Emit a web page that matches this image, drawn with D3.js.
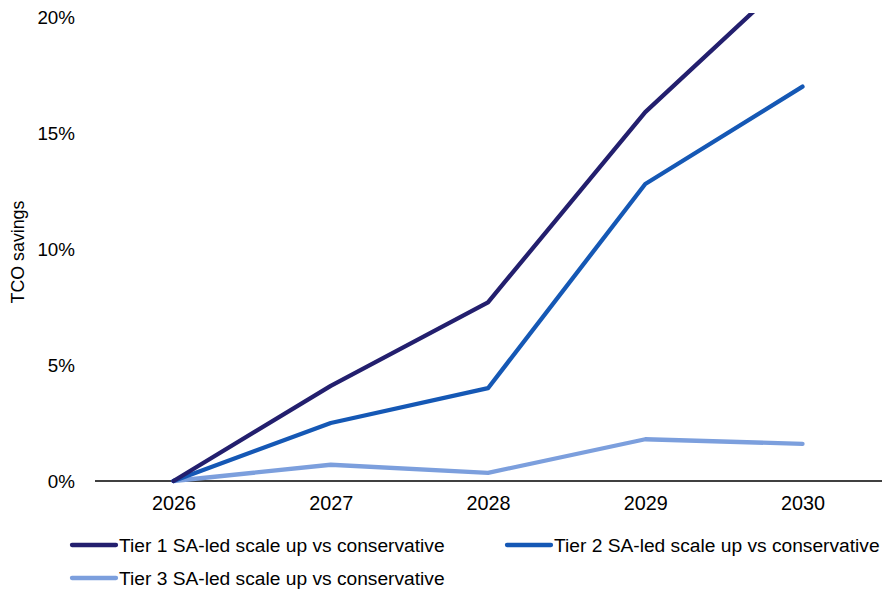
<!DOCTYPE html>
<html>
<head>
<meta charset="utf-8">
<script src="https://cdn.jsdelivr.net/npm/d3@7"></script>
<style>
  html, body { margin: 0; padding: 0; background: #fff; }
  svg { display: block; font-family: "Liberation Sans", Arial, sans-serif; }
</style>
</head>
<body>
<svg id="chart" width="882" height="592"></svg>
<script>
// Years on the x axis
const years = ["2026", "2027", "2028", "2029", "2030"];

// TCO savings (fraction) for each tier, SA-led scale up vs conservative
const tier1 = [0, 0.041, 0.077, 0.159, 0.222];
const tier2 = [0, 0.025, 0.040, 0.128, 0.170];
const tier3 = [0, 0.007, 0.0035, 0.018, 0.016];

const seriesNames = [
  "Tier 1 SA-led scale up vs conservative",
  "Tier 2 SA-led scale up vs conservative",
  "Tier 3 SA-led scale up vs conservative"
];
const seriesColors = ["#231f6e", "#1558b5", "#7c9fdd"];

const yTicks = [0, 0.05, 0.10, 0.15, 0.20];

const series = [tier1, tier2, tier3].map((values, i) => ({
  name: seriesNames[i], color: seriesColors[i], values
}));

const svg = d3.select("#chart");

const x = d3.scalePoint().domain(years).range([173.5, 802.5]);
const y = d3.scaleLinear().domain([0, 0.20]).range([481, 17]);

// Clip region for the plot so lines that overshoot the top are cut off
svg.append("defs").append("clipPath").attr("id", "plot-clip")
  .append("rect").attr("x", 90).attr("y", 13).attr("width", 792).attr("height", 480);

// Y axis tick labels (no axis line, no tick marks)
const yAxis = d3.axisLeft(y).tickValues(yTicks).tickFormat(d3.format(".0%")).tickSize(0).tickPadding(0);
const gy = svg.append("g").attr("transform", "translate(75,0)").call(yAxis);
gy.select(".domain").remove();
gy.selectAll("text").attr("font-size", 18.8).attr("fill", "#000").attr("font-family", "Liberation Sans, Arial, sans-serif");

// X axis: baseline at 0% and year labels below
const xAxis = d3.axisBottom(x).tickSize(0).tickPadding(15);
const gx = svg.append("g").attr("transform", `translate(0,${y(0)})`).call(xAxis);
gx.select(".domain").remove();
gx.selectAll("text").attr("font-size", 19.8).attr("fill", "#000").attr("font-family", "Liberation Sans, Arial, sans-serif");
svg.append("line")
  .attr("x1", 95).attr("x2", 882)
  .attr("y1", y(0)).attr("y2", y(0))
  .attr("stroke", "#000").attr("stroke-width", 1.5);

// Y axis title
svg.append("text")
  .attr("transform", `translate(24,${252}) rotate(-90)`)
  .attr("text-anchor", "middle")
  .attr("font-size", 17.8)
  .attr("fill", "#000")
  .text("TCO savings");

// Series lines
const line = d3.line().x((d, i) => x(years[i])).y(d => y(d));
svg.append("g").attr("clip-path", "url(#plot-clip)")
  .selectAll("path").data(series.slice().reverse()).join("path")
  .attr("d", d => line(d.values))
  .attr("fill", "none")
  .attr("stroke", d => d.color)
  .attr("stroke-width", 4.3)
  .attr("stroke-linejoin", "round")
  .attr("stroke-linecap", "round");

// Legend
const legendPos = [[70, 545], [505, 545], [70, 578]];
const lg = svg.append("g").selectAll("g").data(series).join("g")
  .attr("transform", (d, i) => `translate(${legendPos[i][0]},${legendPos[i][1]})`);
lg.append("line").attr("x1", 2).attr("x2", 46).attr("y1", 0).attr("y2", 0)
  .attr("stroke", d => d.color).attr("stroke-width", 4.3).attr("stroke-linecap", "round");
lg.append("text").attr("x", 49).attr("y", 0).attr("dy", "0.35em")
  .attr("font-size", 19.2).attr("fill", "#000")
  .text(d => d.name);
</script>
</body>
</html>
